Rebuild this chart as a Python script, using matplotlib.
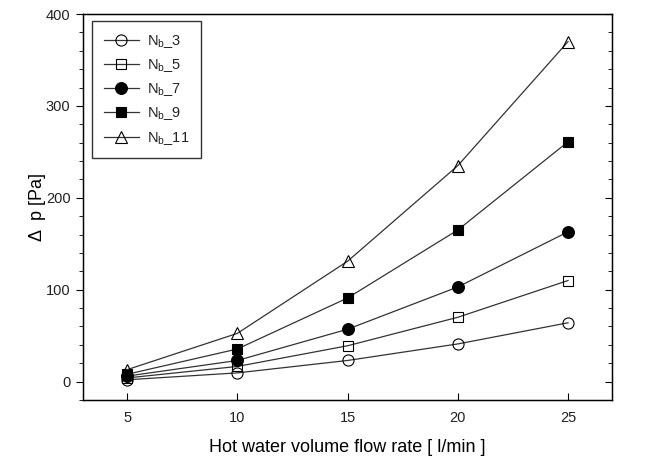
import matplotlib
matplotlib.use('Agg')
from matplotlib import pyplot as plt
from matplotlib.ticker import MultipleLocator

plt.rcParams['font.family'] = ['Liberation Sans', 'DejaVu Sans']
plt.rcParams['mathtext.fontset'] = 'custom'
plt.rcParams['mathtext.rm'] = 'Liberation Sans'
plt.rcParams['text.color'] = '#222222'
plt.rcParams['xtick.labelcolor'] = '#222222'
plt.rcParams['ytick.labelcolor'] = '#222222'

flow = [5, 10, 15, 20, 25]
nb3 = [2, 9.5, 23, 41, 64]
nb5 = [4, 16.5, 39, 70, 110]
nb7 = [6, 23, 57, 103, 163]
nb9 = [8, 35.5, 91, 165, 261]
nb11 = [13, 52.5, 131, 235, 370]
labels = ['3', '5', '7', '9', '11']

fig = plt.figure(figsize=(6.54, 4.67), dpi=100)
ax = fig.add_axes([0.127, 0.1435, 0.809, 0.8265])

styles = [('o', 'none'), ('s', 'none'), ('o', 'black'), ('s', 'black'), ('^', 'none')]
sizes = [8, 7, 8.5, 7.5, 9]
for ys, lab, (m, fc), ms in zip([nb3, nb5, nb7, nb9, nb11], labels, styles, sizes):
    ax.plot(flow, ys, color='#333333', lw=0.9, marker=m, markersize=ms,
            markerfacecolor=fc, markeredgecolor='black', markeredgewidth=0.8,
            label=r'N$_{\mathregular{b}}$_' + lab)

ax.set_xlim(3, 27)
ax.set_ylim(-20, 400)
ax.set_xticks(flow)
ax.yaxis.set_major_locator(MultipleLocator(100))
ax.yaxis.set_minor_locator(MultipleLocator(20))
ax.tick_params(axis='x', direction='in', length=5, labelsize=10.5, pad=8)
ax.tick_params(axis='y', which='major', direction='out', length=5, labelsize=10.5, pad=4)
ax.tick_params(axis='y', which='minor', direction='out', length=3)
for sp in ax.spines.values():
    sp.set_linewidth(1.0)

ax2 = ax.twinx()
ax2.set_ylim(ax.get_ylim())
ax2.yaxis.set_major_locator(MultipleLocator(100))
ax2.yaxis.set_minor_locator(MultipleLocator(20))
ax2.tick_params(axis='y', which='major', direction='in', length=5, labelright=False)
ax2.tick_params(axis='y', which='minor', direction='in', length=3)

ax.set_xlabel('Hot water volume flow rate [ l/min ]', fontsize=13, labelpad=10)
ax.set_ylabel('Δ  p [Pa]', fontsize=13, labelpad=0)

leg = ax.legend(loc='upper left', bbox_to_anchor=(0.017, 0.982), borderaxespad=0,
                fontsize=10.5, frameon=True, fancybox=False, edgecolor='black',
                handlelength=2.4, handletextpad=0.55, borderpad=0.8, labelspacing=0.5)
leg.get_frame().set_linewidth(1.0)

fig.savefig('out.png', dpi=100)
